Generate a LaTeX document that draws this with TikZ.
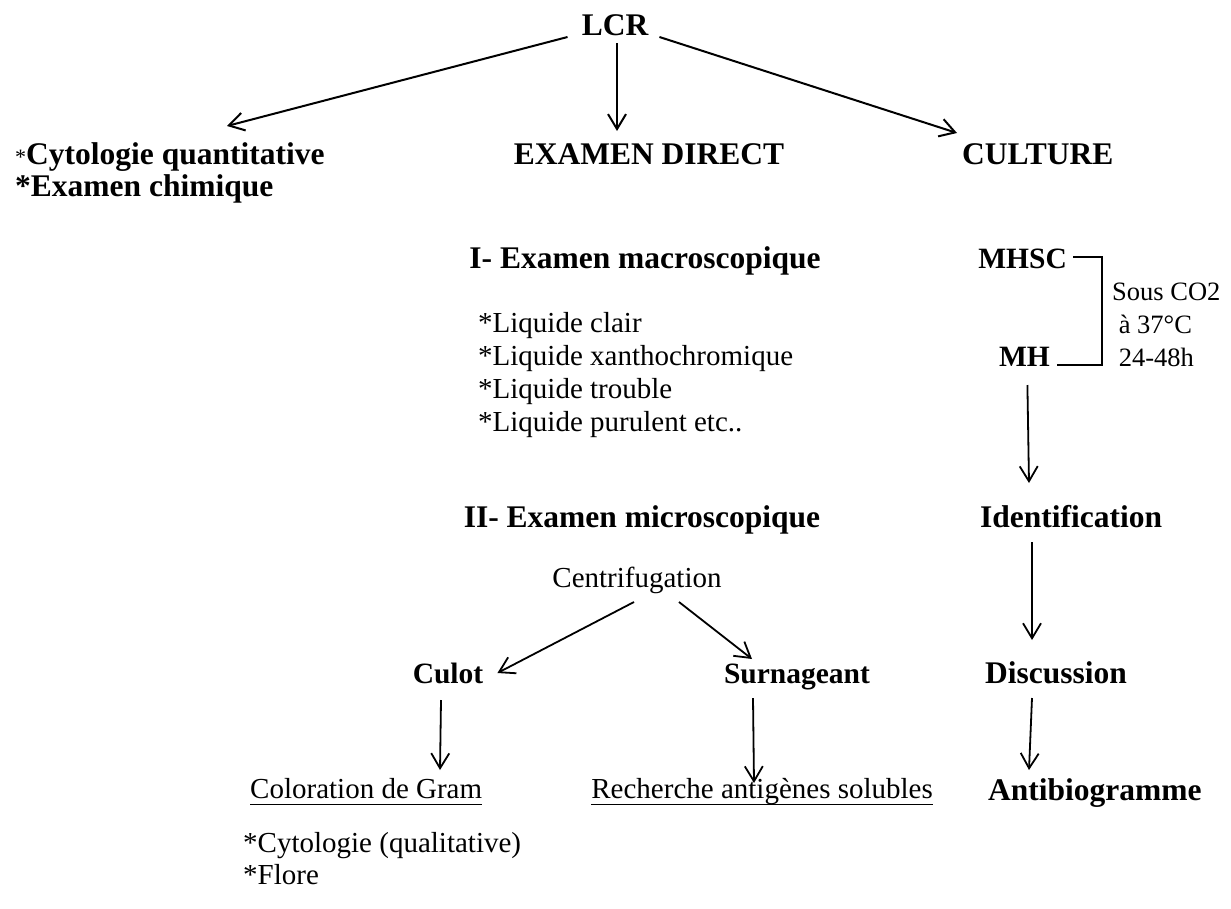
\documentclass[tikz,border=0pt]{standalone}
\usepackage{fontspec}
\setmainfont{Liberation Serif}
\usetikzlibrary{arrows.meta,calc}
\tikzset{
  hd/.style={font=\fontsize{31.5}{36}\selectfont\bfseries, inner sep=0pt},
  hdsmall/.style={font=\fontsize{29.5}{34}\selectfont\bfseries, inner sep=0pt},
  tx/.style={font=\fontsize{29}{33}\selectfont, inner sep=0pt},
  txsmall/.style={font=\fontsize{26.5}{30}\selectfont, inner sep=0pt},
  arr/.style={line width=1.8pt, -{Straight Barb[length=15pt,width=18pt]}},
  toparr/.style={arr, line width=2pt},
  link/.style={line width=1.4pt},
  ul/.style={line width=1.5pt},
}
\begin{document}
\begin{tikzpicture}[x=1pt,y=-1pt]
\useasboundingbox (0,0) rectangle (1231,908);

% top level
\node[hd, anchor=base] (lcr) at (615,35) {LCR};
\node[hd, anchor=base west] (cyto) at (15,164) {{\fontsize{22}{22}\selectfont\mdseries *}Cytologie quantitative};
\node[hd, anchor=base west] (chim) at (15,196) {*Examen chimique};
\node[hd, anchor=base] (direct) at (649,164) {EXAMEN DIRECT};
\node[hd, anchor=base west] (culture) at (962,164) {CULTURE};

\draw[toparr] ($(lcr.base west)+(-14,2)$) -- ($(cyto.base west)+(212,-38)$);
\draw[toparr] ($(lcr.base)+(2,8)$) -- ($(direct.base)+(-32,-33)$);
\draw[toparr] ($(lcr.base east)+(11,2)$) -- ($(culture.base west)+(-5,-31)$);

% direct examination
\node[hd, anchor=base] (macro) at (645,268) {I- Examen macroscopique};
\node[tx, anchor=base west] (liq1) at (478,332) {*Liquide clair};
\node[tx, anchor=base west] (liq2) at (478,365) {*Liquide xanthochromique};
\node[tx, anchor=base west] (liq3) at (478,398) {*Liquide trouble};
\node[tx, anchor=base west] (liq4) at (478,431) {*Liquide purulent etc..};

\node[hd, anchor=base] (micro) at (642,527) {II- Examen microscopique};
\node[tx, anchor=base] (centri) at (637,587) {Centrifugation};
\node[hdsmall, anchor=base] (culot) at (448,683) {Culot};
\node[hdsmall, anchor=base] (surn) at (797,683) {Surnageant};

\draw[arr] ($(centri.base)+(-3,15)$) -- ($(culot.base east)+(14,-10)$);
\draw[arr] ($(centri.base)+(42,15)$) -- ($(surn.base)+(-45,-24)$);

\node[tx, anchor=base west] (gram) at (250,798) {Coloration de Gram};
\node[tx, anchor=base east] (antig) at (933,798) {Recherche antigènes solubles};
\draw[ul] ([yshift=-6.5pt]gram.base west) -- ([yshift=-6.5pt]gram.base east);
\draw[ul] ([yshift=-6.5pt]antig.base west) -- ([yshift=-6.5pt]antig.base east);

\draw[arr] ($(culot.base)+(-7,17)$) -- ($(gram.base west)+(190,-28)$);
\draw[arr] ($(surn.base)+(-44,15)$) -- ($(antig.base east)+(-179,-15)$);

\node[tx, anchor=base west] (qual) at (243,852) {*Cytologie (qualitative)};
\node[tx, anchor=base west] (flore) at (243,884) {*Flore};

% culture
\node[hdsmall, anchor=base east] (mhsc) at (1067,268) {MHSC};
\node[hdsmall, anchor=base east] (mh) at (1050,366) {MH};
\draw[link] ($(mhsc.base east)+(6,-11)$) -| ($(mh.base east)+(52,-1)$) -- ($(mh.base east)+(7,-1)$);
\node[txsmall, anchor=base west] (co2) at (1112,300) {Sous CO2};
\node[txsmall, anchor=base west] (temp) at (1112,333) {\ à 37°C};
\node[txsmall, anchor=base west] (duree) at (1112,366) {\ 24-48h};

\node[hd, anchor=base west] (ident) at (980,527) {Identification};
\node[hd, anchor=base west] (disc) at (985,683) {Discussion};
\node[hd, anchor=base west] (antibio) at (988,800) {Antibiogramme};

\draw[arr] ($(mh.base)+(3,19)$) -- ($(ident.base west)+(49,-44)$);
\draw[arr] ($(ident.base west)+(52,15)$) -- ($(disc.base west)+(47,-43)$);
\draw[arr] ($(disc.base west)+(47,15)$) -- ($(antibio.base west)+(41,-30)$);
\end{tikzpicture}
\end{document}
